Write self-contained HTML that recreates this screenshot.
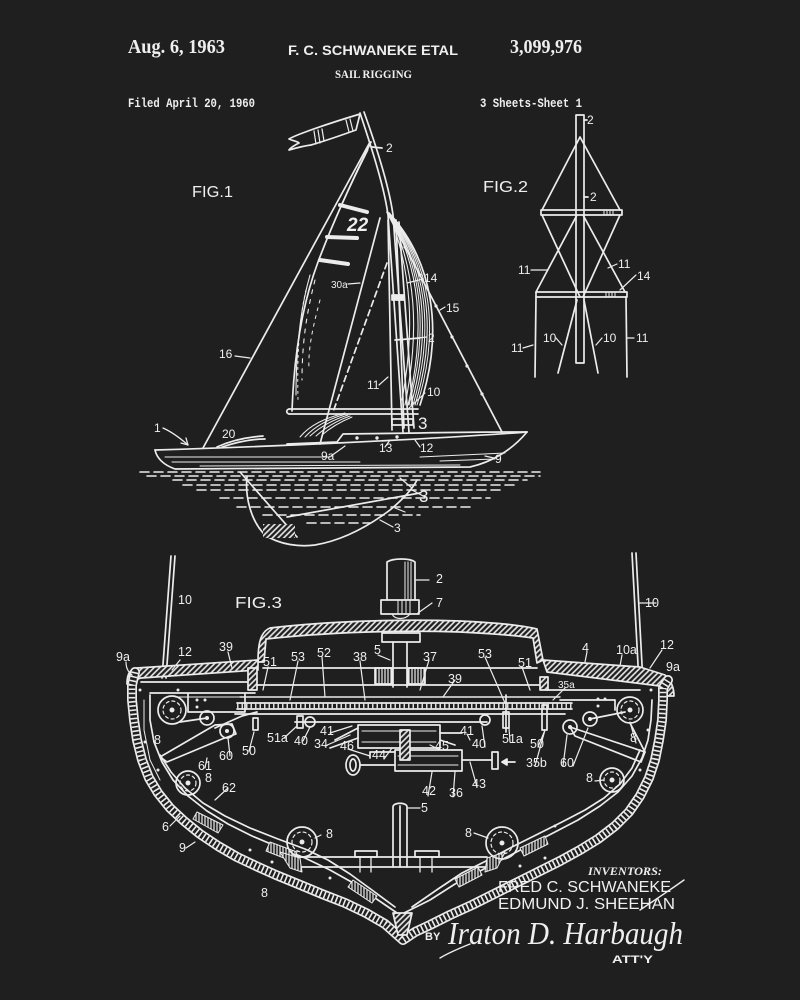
<!DOCTYPE html>
<html><head><meta charset="utf-8"><style>
html,body{margin:0;padding:0;background:#1f1f1f;}
svg{display:block;}
.t{fill:#efefef;font-family:"Liberation Sans",sans-serif;}
.s{fill:#efefef;font-family:"Liberation Serif",serif;font-weight:bold;}
.m{fill:#efefef;font-family:"Liberation Mono",monospace;font-weight:bold;}
</style></head><body>
<svg width="800" height="1000" viewBox="0 0 800 1000" xmlns="http://www.w3.org/2000/svg">
<defs>
<pattern id="h" width="4" height="4" patternUnits="userSpaceOnUse" patternTransform="rotate(45)"><rect width="4" height="4" fill="#1f1f1f"/><line x1="1" y1="0" x2="1" y2="4" stroke="#ececec" stroke-width="1.6"/></pattern>
<pattern id="v" width="3" height="4" patternUnits="userSpaceOnUse"><rect width="3" height="4" fill="#1f1f1f"/><line x1="1" y1="0" x2="1" y2="4" stroke="#ececec" stroke-width="1.2"/></pattern>
</defs>
<rect width="800" height="1000" fill="#1f1f1f"/>

<!-- HEADER -->
<text class="s" x="128" y="53" font-size="20" textLength="97" lengthAdjust="spacingAndGlyphs">Aug. 6, 1963</text>
<text class="t" x="288" y="55" font-size="14" font-weight="bold" textLength="170" lengthAdjust="spacingAndGlyphs">F. C. SCHWANEKE  ETAL</text>
<text class="s" x="510" y="53" font-size="20" textLength="72" lengthAdjust="spacingAndGlyphs">3,099,976</text>
<text class="s" x="335" y="78" font-size="12" textLength="77" lengthAdjust="spacingAndGlyphs">SAIL RIGGING</text>
<text class="m" x="128" y="107" font-size="13" textLength="127" lengthAdjust="spacingAndGlyphs">Filed April 20, 1960</text>
<text class="m" x="480" y="107" font-size="13" textLength="102" lengthAdjust="spacingAndGlyphs">3 Sheets-Sheet 1</text>

<g stroke="#ececec" fill="none" stroke-width="1.7" stroke-linecap="round" stroke-linejoin="round">

<!-- ============ FIG 1 ============ -->
<path d="M360,114 C340,120 322,126 308,131 C300,134 294,136 289,139 C293,141 297,141 299,143 C295,145 291,147 289,150 C296,148 303,146 311,145 C325,141 342,135 356,130 Z"/>
<path d="M314,131 L316,144 M318,130 L320,143 M322,129 L324,141 M346,120 L349,132 M350,119 L353,131" stroke-width="1.2"/>
<path d="M360,113 C369,140 384,185 388,215 L403,432"/>
<path d="M364,112 C374,140 389,185 393,215 L409,432"/>
<path d="M372,147 L382,148"/>
<path d="M203,448 L370,142"/>
<path d="M371,142 C350,185 330,230 318,262 C302,305 294,355 292,411"/>
<path d="M368,150 C348,190 328,235 316,268" stroke-width="1"/>
<path d="M310,275 C300,310 296,350 296,395" stroke-width="1.1"/>
<path d="M315,280 C306,315 302,345 302,380" stroke-width="1.1" stroke-dasharray="4 6"/>
<path d="M320,300 C312,330 308,350 309,370" stroke-width="1" stroke-dasharray="3 5"/>
<path d="M306,290 C299,320 297,355 298,400" stroke-width="1" stroke-dasharray="2 4"/>
<path d="M340,205 L367,212 M327,237 L357,238 M320,260 L348,264" stroke-width="4"/>
<path d="M289,409 L418,409 M289,414 L418,414"/>
<path d="M289,409 C286,410 286,413 289,414"/>
<path d="M300,437 C310,425 325,418 345,413 M305,437 C315,426 328,419 346,414 M310,436 C320,427 332,420 348,415 M316,436 C325,428 336,421 350,416 M322,435 C330,428 340,422 352,417" stroke-width="1"/>
<path d="M380,218 L320,444"/>
<path d="M387,263 L333,412" stroke-dasharray="6 4"/>
<path d="M388,220 L392,430 M396,220 L404,428 M399,222 L414,428"/>
<path d="M392,295 L404,295 L404,300 L392,300 Z" fill="#ececec"/>
<path d="M389,213 C432,260 445,330 420,405"/>
<path d="M389,213 C430,261 441,330 417,405" stroke-width="1"/>
<path d="M389,213 C428,262 438,330 415,405" stroke-width="1.1"/>
<path d="M389,213 C426,263 435,330 413,405" stroke-width="1"/>
<path d="M389,213 C424,265 432,330 411,405" stroke-width="1.1"/>
<path d="M389,213 C422,266 429,330 409,405" stroke-width="1"/>
<path d="M389,213 C420,268 426,330 408,405" stroke-width="1.1"/>
<path d="M389,213 C416,270 420,330 405,405" stroke-width="1.1"/>
<path d="M389,213 C412,272 415,330 402,400" stroke-width="1.1"/>
<path d="M395,340 L420,338"/>
<path d="M387,212 L502,432"/>
<g fill="#ececec" stroke="none"><circle cx="405" cy="247" r="1.6"/><circle cx="420" cy="275" r="1.6"/><circle cx="436" cy="306" r="1.6"/><circle cx="452" cy="337" r="1.6"/><circle cx="467" cy="366" r="1.6"/><circle cx="482" cy="394" r="1.6"/></g>
<rect x="392" y="419" width="21" height="6"/>
<path d="M155,450 C260,447 420,440 527,432"/>
<path d="M155,450 C157,459 164,465 175,469 L470,467 C492,462 512,450 527,432"/>
<path d="M165,457 L330,457 M172,462 L360,462 M200,466 L460,465 M420,457 L505,453 M440,461 L495,459" stroke-width="1"/>
<path d="M287,444 L337,442 L343,434 L420,433 C460,432 500,432 527,432"/>
<g fill="#ececec" stroke="none"><circle cx="357" cy="438" r="1.7"/><circle cx="377" cy="438" r="1.7"/><circle cx="397" cy="437" r="1.7"/></g>
<path d="M217,447 C232,440 248,437 263,436 M222,447 C237,442 252,439 265,439"/>
<path d="M163,428 C172,432 180,438 188,445" stroke-width="1.3"/>
<path d="M188,445 L181,443 M188,445 L186,438" stroke-width="1.3"/>
<g stroke-dasharray="9 5" stroke-width="1.6">
<path d="M140,472 L540,472"/>
<path d="M147,476 L540,476"/>
<path d="M173,480 L527,480"/>
<path d="M183,485 L517,485"/>
<path d="M197,490 L500,490"/>
<path d="M220,498 L490,498"/>
<path d="M237,507 L470,507"/>
<path d="M263,515 L420,515"/>
<path d="M307,523 L370,523"/>
</g>
<path d="M247,477 C245,495 250,520 265,535 C280,545 300,547 315,545 C345,540 370,525 390,510 C402,500 412,490 417,480"/>
<path d="M240,472 L297,537"/>
<path d="M287,517 L420,493"/>
<rect x="263" y="524" width="32" height="14" fill="url(#h)" stroke="none"/>
<path d="M400,478 L412,488 M395,508 L405,512" stroke-width="1.2"/>

<!-- ============ FIG 2 ============ -->
<path d="M576,115 L576,363 M584,115 L584,363 M576,115 L584,115 M576,363 L584,363"/>
<path d="M584,120 L587,120"/>
<path d="M580,137 L542,210 M580,137 L620,210"/>
<path d="M541,210 L622,210 L622,215 L541,215 Z"/>
<path d="M536,292 L627,292 L627,297 L536,297 Z"/>
<path d="M604,211 L604,215 M607,211 L607,215 M610,211 L610,215 M613,211 L613,215 M606,293 L606,297 M609,293 L609,297 M612,293 L612,297 M615,293 L615,297" stroke-width="1"/>
<path d="M542,215 L580,297 M577,215 L536,292 M620,215 L583,297 M583,215 L625,292"/>
<path d="M536,297 L535,377 M626,297 L627,377"/>
<path d="M577,300 L558,373 M584,300 L598,373"/>
<path d="M584,197 L588,197"/>
<!-- ============ FIG 3 ============ -->
<path d="M171,556 L162,678 M175,556 L166,678"/>
<path d="M632,553 L639,683 M636,553 L643,683"/>
<path d="M258,662 C258,645 260,632 270,628 C330,621 400,619 460,621 C500,623 520,625 537,629 L543,660 L537,663 L533,638 C520,636 500,634 460,632 C400,630 330,632 266,639 L264,662 Z" fill="url(#h)"/>
<path d="M127,684 C127,674 130,669 137,668 L258,660 L258,670 L141,678 C136,679 134,682 134,688 Z" fill="url(#h)"/>
<path d="M543,660 L640,667 L665,675 C671,680 674,688 674,696 L667,696 C667,690 665,687 660,686 L547,672 Z" fill="url(#h)"/>
<g>
<polyline points="135,672 132,685 132,700 134,720 137,740 142,760 149,778 158,793 170,808 184,821 200,834 218,846 237,857 256,866 276,875 298,884 322,894 345,903 366,913 385,924 403,940 415,932 430,925 450,915 472,905 494,894 516,883 538,872 560,861 580,850 598,839 615,826 629,812 640,796 649,778 655,760 659,740 662,720 663,700 663,688 668,680" stroke-width="10"/>
<polyline points="135,672 132,685 132,700 134,720 137,740 142,760 149,778 158,793 170,808 184,821 200,834 218,846 237,857 256,866 276,875 298,884 322,894 345,903 366,913 385,924 403,940 415,932 430,925 450,915 472,905 494,894 516,883 538,872 560,861 580,850 598,839 615,826 629,812 640,796 649,778 655,760 659,740 662,720 663,700 663,688 668,680" stroke-width="6.6" stroke="#1f1f1f"/>
<polyline points="135,672 132,685 132,700 134,720 137,740 142,760 149,778 158,793 170,808 184,821 200,834 218,846 237,857 256,866 276,875 298,884 322,894 345,903 366,913 385,924 403,940 415,932 430,925 450,915 472,905 494,894 516,883 538,872 560,861 580,850 598,839 615,826 629,812 640,796 649,778 655,760 659,740 662,720 663,700 663,688 668,680" stroke-width="6.6" stroke-dasharray="1.6 2.6" stroke-linecap="butt"/>
</g>
<polyline points="150,695 150,720 154,742 162,762 173,780 188,796 207,811 228,824 252,836 278,847 305,858 330,870 355,884 378,900 400,915 430,900 455,884 480,871 505,858 530,845 555,832 578,820 600,806 618,792 632,776 642,758 648,740 651,720 652,700"/>
<polyline points="160,755 171,772 185,788 203,803 225,816 250,828 278,839 305,849 328,860 350,874 372,890 395,907"/>
<polyline points="640,750 632,768 620,784 604,798 585,810 562,822 538,834 512,847 488,860 462,873 438,889 412,907"/>
<polyline points="144,700 144,730 150,760 160,780" stroke-width="1"/>
<path d="M197,812 L223,825 L218,833 L193,819 Z M270,842 L297,852 L294,862 L266,851 Z M353,880 L377,896 L372,903 L348,887 Z" fill="url(#v)" stroke-width="1"/>
<path d="M520,848 L545,836 L548,844 L524,856 Z M455,879 L478,867 L482,875 L459,887 Z" fill="url(#v)" stroke-width="1"/>
<path d="M393,913 L412,913 L407,935 L398,935 Z" fill="url(#h)"/>
<path d="M297,857 L487,857 M297,867 L487,867"/>
<path d="M280,852 L300,858 L302,872 L290,868 Z M505,852 L487,858 L485,872 L497,868 Z" fill="url(#v)" stroke-width="1"/>
<path d="M393,867 L393,807 C393,802 407,802 407,807 L407,867 M400,806 L400,867"/>
<rect x="355" y="851" width="22" height="6"/><rect x="415" y="851" width="24" height="6"/>
<path d="M360,857 L360,872 M371,857 L371,872 M420,857 L420,872 M432,857 L432,872" stroke-width="1.3"/>
<g>
<circle cx="172" cy="710" r="14"/><circle cx="188" cy="783" r="12"/><circle cx="302" cy="842" r="15"/>
<circle cx="630" cy="710" r="13"/><circle cx="612" cy="780" r="12"/><circle cx="502" cy="843" r="16"/>
<circle cx="172" cy="710" r="9" stroke-dasharray="3 3" stroke-width="1.2"/><circle cx="188" cy="783" r="8" stroke-dasharray="3 3" stroke-width="1.2"/><circle cx="302" cy="842" r="10" stroke-dasharray="3 3" stroke-width="1.2"/>
<circle cx="630" cy="710" r="9" stroke-dasharray="3 3" stroke-width="1.2"/><circle cx="612" cy="780" r="8" stroke-dasharray="3 3" stroke-width="1.2"/><circle cx="502" cy="843" r="11" stroke-dasharray="3 3" stroke-width="1.2"/>
<circle cx="207" cy="718" r="7"/><circle cx="227" cy="731" r="7"/><circle cx="590" cy="719" r="7"/><circle cx="570" cy="727" r="7"/>
</g>
<g fill="#ececec" stroke="none">
<circle cx="172" cy="710" r="2.5"/><circle cx="188" cy="783" r="2.5"/><circle cx="302" cy="842" r="2.5"/><circle cx="630" cy="710" r="2.5"/><circle cx="612" cy="780" r="2.5"/><circle cx="502" cy="843" r="2.5"/>
<circle cx="207" cy="718" r="2"/><circle cx="227" cy="731" r="2"/><circle cx="590" cy="719" r="2"/><circle cx="570" cy="727" r="2"/>
<circle cx="140" cy="690" r="1.5"/><circle cx="145" cy="742" r="1.5"/><circle cx="158" cy="770" r="1.5"/><circle cx="197" cy="700" r="1.5"/><circle cx="205" cy="700" r="1.5"/><circle cx="197" cy="707" r="1.5"/><circle cx="178" cy="690" r="1.5"/>
<circle cx="598" cy="699" r="1.5"/><circle cx="605" cy="699" r="1.5"/><circle cx="598" cy="706" r="1.5"/><circle cx="651" cy="690" r="1.5"/><circle cx="648" cy="730" r="1.5"/><circle cx="640" cy="770" r="1.5"/>
<circle cx="250" cy="850" r="1.5"/><circle cx="272" cy="862" r="1.5"/><circle cx="330" cy="878" r="1.5"/><circle cx="520" cy="866" r="1.5"/><circle cx="545" cy="858" r="1.5"/><circle cx="555" cy="826" r="1.5"/>
</g>
<path d="M141,682 L257,682 M150,693 L255,693 M188,693 L188,712 L245,712 L245,693"/>
<path d="M160,757 L215,725 L232,724 L236,734 L222,739 L167,762 Z"/>
<path d="M180,722 L207,718 M215,728 L242,716 L257,712" />
<path d="M175,697 L257,697" stroke-width="1"/>
<path d="M547,690 L640,690 M560,700 L615,700 L615,710"/>
<path d="M570,727 L645,752 L641,762 L575,736 Z"/>
<path d="M590,719 L625,712 M630,723 L645,752"/>
<path d="M387,600 L387,562 C393,558 410,558 415,562 L415,600"/>
<path d="M405,562 L405,600 M408,562 L408,600 M411,562 L411,600" stroke-width="1"/>
<rect x="381" y="600" width="38" height="14"/>
<path d="M398,601 L398,613 M402,601 L402,613 M406,601 L406,613 M410,601 L410,613" stroke-width="1"/>
<path d="M392,614 C395,620 405,620 410,614" stroke-width="1.2"/>
<rect x="382" y="633" width="38" height="9"/>
<path d="M393,642 L393,687 M407,642 L407,687"/>
<rect x="375" y="668" width="17" height="16" fill="url(#v)"/>
<rect x="408" y="668" width="17" height="16" fill="url(#v)"/>
<path d="M263,668 L537,668"/>
<path d="M255,685 L545,685"/>
<path d="M240,697 L560,697" stroke-width="1.4"/>
<path d="M237,703 L572,703 M237,709 L572,709"/>
<path d="M237,706 L572,706" stroke-width="5" stroke-dasharray="1.5 3" stroke-linecap="butt" stroke="#dcdcdc"/>
<path d="M235,714 L565,714"/>
<path d="M248,668 L257,668 L257,690 L248,690 Z M540,677 L548,677 L548,690 L540,690 Z" fill="url(#h)"/>
<path d="M295,722 L487,722"/>
<circle cx="310" cy="722" r="5"/><circle cx="485" cy="720" r="5"/>
<rect x="297" y="716" width="6" height="12"/><rect x="503" y="712" width="6" height="16"/>
<path d="M506,695 L506,732"/>
<rect x="253" y="718" width="5" height="12"/><rect x="542" y="705" width="5" height="25"/>
<rect x="358" y="725" width="82" height="23"/>
<path d="M362,731 L436,731 M362,742 L436,742" stroke-width="1.1"/>
<rect x="395" y="750" width="67" height="21"/>
<path d="M398,756 L458,756 M398,765 L458,765" stroke-width="1.1"/>
<rect x="400" y="730" width="10" height="30" fill="url(#h)"/>
<path d="M335,740 L358,728 M330,748 L358,738 M440,733 L462,733 M440,740 L455,745"/>
<ellipse cx="353" cy="765" rx="7" ry="10"/><ellipse cx="353" cy="765" rx="3" ry="6"/>
<path d="M360,765 L395,765 M370,752 L395,752 M370,752 L370,758"/>
<path d="M462,760 L492,760"/>
<rect x="492" y="752" width="6" height="17"/>
<path d="M515,762 L502,762 M502,762 L507,759 L507,765 Z" fill="#ececec"/>
<path d="M126,662 C126,668 128,672 132,675 M180,660 L172,670 M228,652 L232,668 M268,667 L263,690 M298,661 L290,700 M322,657 L325,697 M360,661 L365,700 M378,655 L390,660 M284,738 L297,726 M303,741 L310,727 M330,733 L352,726 M325,746 L350,735 M348,749 L370,756 M384,759 L392,748 M249,751 L254,732 M230,756 L228,738 M205,768 L207,758 M228,788 L215,800 M170,826 L180,816 M186,848 L195,842 M321,835 L315,838 M429,580 L416,580 M432,603 L418,613 M429,660 L420,690 M455,680 L443,697 M485,657 L505,703 M522,667 L530,690 M587,652 L585,662 M622,655 L620,666 M662,650 L650,668 M565,688 L553,700 M467,734 L470,740 M485,747 L482,726 M510,742 L509,728 M538,747 L545,730 M440,750 L430,745 M535,766 L545,730 M563,766 L567,735 M573,766 L588,728 M636,743 L630,722 M595,781 L604,780 M428,796 L432,772 M453,797 L455,772 M477,787 L470,762 M656,603 L640,603 M420,808 L408,808 M474,833 L488,838" stroke-width="1.2"/>
<path d="M235,356 L250,358 M348,284 L360,283 M423,279 L407,283 M445,307 L440,310 M427,337 L400,340 M379,385 L388,377 M425,393 L407,410 M420,447 L415,440 M385,447 L390,440 M331,456 L345,446 M494,458 L485,456 M425,497 L412,490 M393,527 L380,520 M531,270 L548,270 M617,264 L608,268 M636,275 L620,290 M556,338 L562,345 M602,338 L596,345 M523,348 L533,345 M634,338 L627,338" stroke-width="1.2"/>
<path d="M440,958 C450,952 460,948 470,944 M640,910 C655,900 670,890 684,880" stroke-width="1.4"/>
</g>

<g class="t" font-size="16">
<text x="192" y="197" textLength="41" lengthAdjust="spacingAndGlyphs">FIG.1</text>
<text x="483" y="192" textLength="45" lengthAdjust="spacingAndGlyphs">FIG.2</text>
<text x="235" y="608" textLength="47" lengthAdjust="spacingAndGlyphs">FIG.3</text>
</g>
<text class="t" x="347" y="231" font-size="19" font-weight="bold" font-style="italic">22</text>
<g class="t" font-size="12">
<text x="386" y="152">2</text>
<text x="219" y="358">16</text>
<text x="331" y="288" font-size="10">30a</text>
<text x="424" y="282">14</text>
<text x="446" y="312">15</text>
<text x="428" y="342">2</text>
<text x="367" y="389">11</text>
<text x="427" y="396">10</text>
<text x="418" y="429" font-size="17">3</text>
<text x="420" y="452">12</text>
<text x="379" y="452">13</text>
<text x="321" y="460">9a</text>
<text x="495" y="463">9</text>
<text x="154" y="432">1</text>
<text x="222" y="438">20</text>
<text x="419" y="502" font-size="17">3</text>
<text x="394" y="532">3</text>
<text x="587" y="124">2</text>
<text x="590" y="201">2</text>
<text x="518" y="274">11</text>
<text x="618" y="268">11</text>
<text x="637" y="280">14</text>
<text x="543" y="342">10</text>
<text x="603" y="342">10</text>
<text x="511" y="352">11</text>
<text x="636" y="342">11</text>
</g>
<g class="t" font-size="12.5">
<text x="116" y="661">9a</text>
<text x="178" y="604">10</text>
<text x="178" y="656">12</text>
<text x="219" y="651">39</text>
<text x="263" y="666">51</text>
<text x="291" y="661">53</text>
<text x="317" y="657">52</text>
<text x="353" y="661">38</text>
<text x="374" y="654">5</text>
<text x="154" y="744">8</text>
<text x="267" y="742">51a</text>
<text x="294" y="745">40</text>
<text x="320" y="735">41</text>
<text x="314" y="748">34</text>
<text x="340" y="750">46</text>
<text x="372" y="759">44</text>
<text x="242" y="755">50</text>
<text x="219" y="760">60</text>
<text x="198" y="770">61</text>
<text x="205" y="782">8</text>
<text x="222" y="792">62</text>
<text x="162" y="831">6</text>
<text x="179" y="852">9</text>
<text x="261" y="897">8</text>
<text x="326" y="838">8</text>
<text x="436" y="583">2</text>
<text x="436" y="607">7</text>
<text x="423" y="661">37</text>
<text x="448" y="683">39</text>
<text x="478" y="658">53</text>
<text x="518" y="667">51</text>
<text x="582" y="652">4</text>
<text x="616" y="654">10a</text>
<text x="660" y="649">12</text>
<text x="666" y="671">9a</text>
<text x="558" y="688" font-size="10">35a</text>
<text x="460" y="735">41</text>
<text x="472" y="748">40</text>
<text x="502" y="743">51a</text>
<text x="530" y="748">50</text>
<text x="435" y="750">45</text>
<text x="526" y="767">35b</text>
<text x="560" y="767">60</text>
<text x="630" y="742">8</text>
<text x="586" y="782">8</text>
<text x="422" y="795">42</text>
<text x="449" y="797">36</text>
<text x="472" y="788">43</text>
<text x="645" y="607">10</text>
<text x="421" y="812">5</text>
<text x="465" y="837">8</text>
</g>
<text class="s" x="588" y="875" font-size="12" font-style="italic" textLength="74" lengthAdjust="spacingAndGlyphs">INVENTORS:</text>
<text class="t" x="498" y="892" font-size="16" textLength="173" lengthAdjust="spacingAndGlyphs">FRED C. SCHWANEKE</text>
<text class="t" x="498" y="909" font-size="16" textLength="177" lengthAdjust="spacingAndGlyphs">EDMUND J. SHEEHAN</text>
<text class="t" x="425" y="940" font-size="11" font-weight="bold">BY</text>
<text x="448" y="944" font-size="32" font-style="italic" fill="#efefef" font-family="Liberation Serif, serif" textLength="235" lengthAdjust="spacingAndGlyphs">Iraton D. Harbaugh</text>
<text class="t" x="612" y="963" font-size="11" font-weight="bold" textLength="41" lengthAdjust="spacingAndGlyphs">ATT'Y</text>
</svg>
</body></html>
